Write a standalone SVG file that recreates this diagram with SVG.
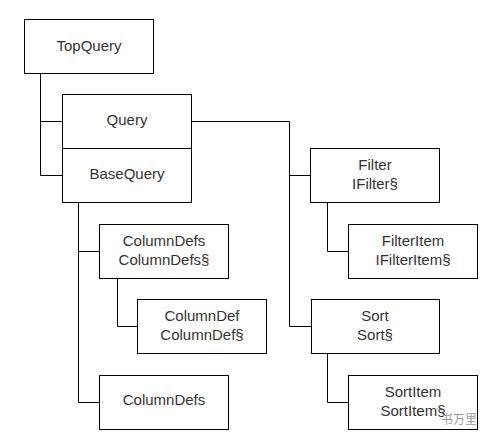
<svg xmlns="http://www.w3.org/2000/svg" width="494" height="442" viewBox="0 0 494 442">
<style>
.box{fill:#fff;stroke:#000;stroke-width:1}
.t{font-family:"Liberation Sans",Arial,sans-serif;font-size:15px;fill:#333;text-anchor:middle}
.c{fill:none;stroke:#000;stroke-width:1}
.wm{font-family:"Noto Sans CJK SC",sans-serif;font-size:12px;fill:#999}
</style>
<rect width="494" height="442" fill="#fff"/>
<g id="connectors">
<path class="c" d="M40.5,73 V175.5 H62 M40.5,121.5 H62"/>
<path class="c" d="M191,121.5 H289.5 V326.5 H311 M289.5,175.5 H310"/>
<path class="c" d="M327.5,202 V251.5 H348"/>
<path class="c" d="M327.5,353 V402.5 H348"/>
<path class="c" d="M78.5,202 V402.5 H99 M78.5,251.5 H99"/>
<path class="c" d="M117.5,278 V326.5 H137"/>
</g>
<g id="TopQuery"><rect class="box" x="24.5" y="19.5" width="129" height="54"/><text class="t" x="89" y="51">TopQuery</text></g>
<g id="Query"><rect class="box" x="62.5" y="94.5" width="129" height="54"/><text class="t" x="127" y="125">Query</text></g>
<g id="BaseQuery"><rect class="box" x="62.5" y="148.5" width="129" height="54"/><text class="t" x="127" y="179">BaseQuery</text></g>
<g id="Filter"><rect class="box" x="310.5" y="148.5" width="129" height="54"/><text class="t" x="375" y="170">Filter</text><text class="t" x="375" y="189">IFilter§</text></g>
<g id="FilterItem"><rect class="box" x="348.5" y="224.5" width="129" height="54"/><text class="t" x="413" y="246">FilterItem</text><text class="t" x="413" y="265">IFilterItem§</text></g>
<g id="Sort"><rect class="box" x="311.5" y="299.5" width="128" height="54"/><text class="t" x="375" y="321">Sort</text><text class="t" x="375" y="340">Sort§</text></g>
<g id="SortItem"><rect class="box" x="348.5" y="375.5" width="129" height="54"/><text class="t" x="413" y="397">SortItem</text><text class="t" x="413" y="416">SortItem§</text></g>
<g id="ColumnDefs1"><rect class="box" x="99.5" y="224.5" width="129" height="54"/><text class="t" x="164" y="246">ColumnDefs</text><text class="t" x="164" y="265">ColumnDefs§</text></g>
<g id="ColumnDef"><rect class="box" x="137.5" y="299.5" width="129" height="54"/><text class="t" x="202" y="321">ColumnDef</text><text class="t" x="202" y="340">ColumnDef§</text></g>
<g id="ColumnDefs2"><rect class="box" x="99.5" y="375.5" width="129" height="54"/><text class="t" x="164" y="405">ColumnDefs</text></g>
<text class="wm" x="441" y="424">书万里</text>
</svg>
